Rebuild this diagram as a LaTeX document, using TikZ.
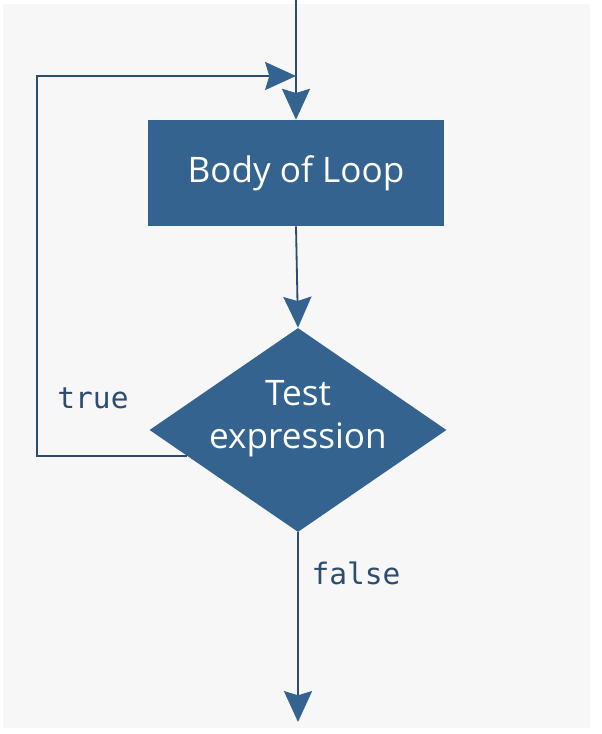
\documentclass[tikz,border=0pt]{standalone}
\usepackage{fontspec}
\setmainfont{Open Sans}
\setmonofont{DejaVu Sans Mono}
\usepackage{tikz}
\usetikzlibrary{arrows.meta,positioning,shapes.geometric}

\definecolor{loopblue}{RGB}{52,99,143}
\definecolor{linkblue}{RGB}{44,76,112}
\definecolor{panelgray}{RGB}{247,247,248}

\begin{document}
\begin{tikzpicture}[>={Stealth[length=22pt,width=20pt,inset=3pt,color=loopblue]},
    blk/.style={rectangle,fill=loopblue,text=white,minimum width=7.4cm,minimum height=2.65cm,inner sep=0pt,font=\fontsize{25}{29}\selectfont},
    test/.style={diamond,fill=loopblue,aspect=1.456,minimum width=7.425cm,minimum height=5.1cm,inner sep=0pt},
    inner/.style={text=white,align=center,font=\fontsize{25}{31}\selectfont},
    link/.style={draw=linkblue,line width=1.3pt},
    tag/.style={text=linkblue,font=\ttfamily\fontsize{21}{25}\selectfont}]
      \useasboundingbox (0,0) rectangle (15.05,18.35);
      \fill[white] (0,0) rectangle (15.05,18.35);
      \fill[panelgray] (0.075,0.15) rectangle (14.75,18.25);

      \node[blk] (body) at (7.4,14.025) {Body of Loop};
      \node[test,label={[inner,yshift=0.28cm]center:{Test\\expression}}] (expr) at (7.45,7.6) {};

      \coordinate (top) at (7.4,18.35);
      \coordinate (join) at (7.4,16.45);
      \coordinate (loop) at (0.925,16.45);
      \coordinate (exit) at (7.45,0.3);

      \node[tag] (true) at (2.325,8.4) {true};
      \node[tag] (false) at (8.9,4.025) {false};

      \draw[link,->] (top) -- (body.north);
      \draw[link,->] (body.south) -- (expr.north);
      \draw[link,->] (expr.193) -| (loop) -- (join);
      \draw[link,->] (expr.south) -- (exit);
     \end{tikzpicture}
\end{document}
